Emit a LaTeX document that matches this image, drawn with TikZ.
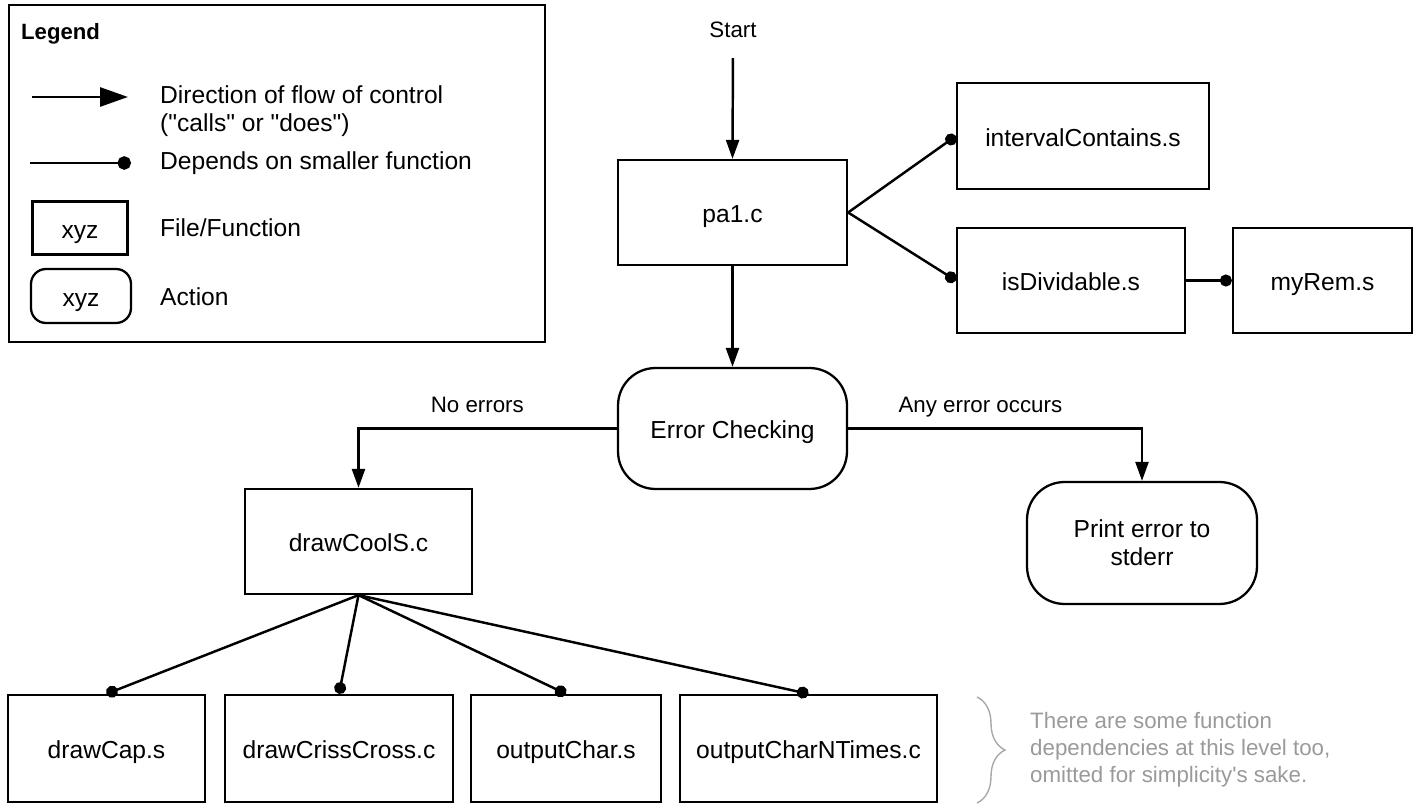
\documentclass[tikz,border=0pt]{standalone}
\usepackage{fontspec}
\setmainfont{Liberation Sans}
\usepackage{xcolor}
\usepackage{tikz}
\usetikzlibrary{arrows.meta,decorations.pathreplacing}

\definecolor{notegray}{HTML}{9A9A9A}

\begin{document}
\begin{tikzpicture}[x=0.02cm, y=-0.02cm,
    every node/.style={font=\fontsize{14}{17}\selectfont},
    filebox/.style={draw, line width=1.3pt, inner sep=0pt, minimum height=2.1cm, text height=11.5pt, text depth=0pt},
    actionbox/.style={draw, line width=1.3pt, rounded corners=0.75cm, inner sep=0pt, align=center},
    flow/.style={line width=1.4pt, -{Triangle[length=0.38cm, width=0.26cm]}},
    dep/.style={line width=1.4pt, -{Circle[length=0.24cm]}},
    edgelabel/.style={font=\fontsize{12.7}{15}\selectfont, text depth=0pt}]
\useasboundingbox (0,0) rectangle (1423,804);

% legend
\node[draw, line width=1.3pt, minimum width=10.72cm, minimum height=6.74cm] (legend) at (277,173.5) {};
\node[anchor=west, font=\fontsize{12.6}{15}\selectfont\bfseries] (legendtitle) at (15,34) {Legend};
\coordinate (keyflowa) at (32,97);
\coordinate (keyflowb) at (128,97);
\draw[flow, line width=1.6pt, -{Triangle[length=0.56cm, width=0.38cm]}] (keyflowa) -- (keyflowb);
\node[anchor=west, align=left, font=\fontsize{14}{15.9}\selectfont] (keyflowtext) at (154,111)
    {Direction of flow of control\\(\textquotedbl calls\textquotedbl{} or \textquotedbl does\textquotedbl)};
\coordinate (keydepa) at (30,163);
\coordinate (keydepb) at (131,163);
\draw[dep, line width=1.6pt, -{Circle[length=0.27cm]}] (keydepa) -- (keydepb);
\node[anchor=west] (keydeptext) at (154,163) {Depends on smaller function};
\node[filebox, minimum width=1.9cm, minimum height=1.06cm] (keyfile) at (80,228) {xyz};
\node[anchor=west] (keyfiletext) at (154,228) {File/Function};
\node[actionbox, rounded corners=0.3cm, minimum width=2cm, minimum height=1.08cm, text height=11.5pt, text depth=0pt] (keyaction) at (81,296) {xyz};
\node[anchor=west] (keyactiontext) at (154,297) {Action};

% main flow
\node[font=\fontsize{12.7}{15}\selectfont] (start) at (733,30) {Start};
\node[filebox, minimum width=4.58cm] (pa1) at (732.5,212.5) {pa1.c};
\node[filebox, minimum width=5.04cm, minimum height=2.12cm] (interval) at (1083,136) {intervalContains.s};
\node[filebox, minimum width=4.56cm] (isdiv) at (1071,280.5) {isDividable.s};
\node[filebox, minimum width=3.58cm] (myrem) at (1322.5,280.5) {myRem.s};
\node[actionbox, minimum width=4.58cm, minimum height=2.42cm, text height=11.5pt, text depth=0pt] (errcheck) at (732.5,428.5) {Error Checking};
\node[filebox, minimum width=4.54cm] (drawcools) at (358.5,541.5) {drawCoolS.c};
\node[actionbox, minimum width=4.6cm, minimum height=2.44cm, font=\fontsize{14}{16}\selectfont] (printerr) at (1142,543) {Print error to\\stderr};

% smaller functions
\node[filebox, minimum width=3.94cm, minimum height=2.14cm] (drawcap) at (106.5,748.5) {drawCap.s};
\node[filebox, minimum width=4.56cm, minimum height=2.14cm] (crisscross) at (339,748.5) {drawCrissCross.c};
\node[filebox, minimum width=3.8cm, minimum height=2.14cm] (outchar) at (566,748.5) {outputChar.s};
\node[filebox, minimum width=5.14cm, minimum height=2.14cm] (outcharn) at (808.5,748.5) {outputCharNTimes.c};

\draw[flow, shorten <=0.28cm] (start.south) -- (pa1.north);
\draw[dep] (pa1.east) -- (interval.west);
\draw[dep] (pa1.east) -- (isdiv.west);
\draw[dep] (isdiv.east) -- (myrem.west);
\draw[flow] (pa1.south) -- (errcheck.north);
\draw[flow] (errcheck.west) -| (drawcools.north)
    node[pos=0.27, above=5pt, edgelabel] {No errors};
\draw[flow] (errcheck.east) -| (printerr.north)
    node[pos=0.225, above=5pt, edgelabel] {Any error occurs};
\draw[dep] (drawcools.south) -- (drawcap.north);
\draw[dep] (drawcools.south) -- (crisscross.north);
\draw[dep] (drawcools.south) -- (outchar.north);
\draw[dep] (drawcools.south) -- (outcharn.north);

% note on the bottom row
\coordinate (bracetop) at (977,697);
\coordinate (bracebot) at (977,803);
\draw[notegray!85, line width=0.8pt, decorate, decoration={brace, amplitude=0.56cm}] (bracetop) -- (bracebot);
\node[anchor=west, align=left, text=notegray, font=\fontsize{12.7}{15.3}\selectfont] (note) at (1024,750)
    {There are some function\\dependencies at this level too,\\omitted for simplicity\textquotesingle s sake.};

\end{tikzpicture}
\end{document}
